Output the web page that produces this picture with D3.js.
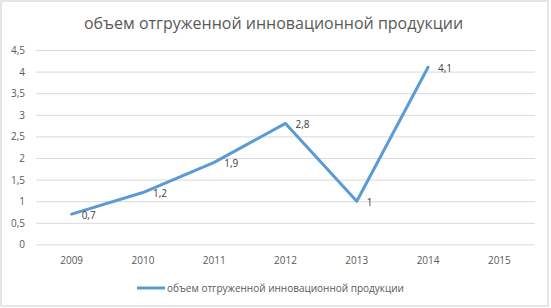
<!DOCTYPE html>
<html>
<head>
<meta charset="utf-8">
<script src="https://cdn.jsdelivr.net/npm/d3@7"></script>
<style>
  body { margin: 0; background: #fff; }
  text { font-family: "Open Sans", "Noto Sans", sans-serif; fill: #595959; }
</style>
</head>
<body>
<div id="chart"></div>
<script>
// data
const years = ["2009", "2010", "2011", "2012", "2013", "2014", "2015"];
const values = [0.7, 1.2, 1.9, 2.8, 1, 4.1, null];
const yTicks = [0, 0.5, 1, 1.5, 2, 2.5, 3, 3.5, 4, 4.5];
const seriesName = "объем отгруженной инновационной продукции";

const W = 551, H = 308;
const plot = {left: 36, right: 535, top: 50, bottom: 244.4};

const svg = d3.select("#chart")
  .append("svg")
    .attr("width", W)
    .attr("height", H);

// chart border
svg.append("rect")
  .attr("x", 1).attr("y", 1)
  .attr("width", W - 4).attr("height", H - 3)
  .attr("fill", "#fff")
  .attr("stroke", "#d9d9d9")
  .attr("stroke-width", 1.3);

const x = d3.scaleBand()
  .domain(years)
  .range([plot.left, plot.right]);

const y = d3.scaleLinear()
  .domain([0, 4.5])
  .range([plot.bottom, plot.top]);

const fmt = d => String(d).replace(".", ",");

// gridlines + y labels
const yAxis = d3.axisLeft(y)
  .tickValues(yTicks)
  .tickSize(-(plot.right - plot.left))
  .tickPadding(11)
  .tickFormat(fmt);

const gy = svg.append("g")
  .attr("transform", `translate(${plot.left},0)`)
  .call(yAxis);
gy.select(".domain").remove();
gy.selectAll(".tick line").attr("stroke", "#d9d9d9").attr("stroke-width", 1);
gy.selectAll(".tick text")
  .attr("font-size", 10)
  .attr("dy", "0.35em");

// x labels
const xAxis = d3.axisBottom(x).tickSize(0).tickPadding(13);
const gx = svg.append("g")
  .attr("transform", `translate(0,${plot.bottom})`)
  .call(xAxis);
gx.select(".domain").remove();
gx.selectAll(".tick text").attr("font-size", 10);

// line
const pts = years.map((d, i) => ({year: d, v: values[i]})).filter(d => d.v != null);

const line = d3.line()
  .x(d => x(d.year) + x.bandwidth() / 2)
  .y(d => y(d.v));

svg.append("path")
  .datum(pts)
  .attr("fill", "none")
  .attr("stroke", "#5b9bd5")
  .attr("stroke-width", 3)
  .attr("stroke-linejoin", "round")
  .attr("stroke-linecap", "round")
  .attr("d", line);

// point labels (right of point)
svg.selectAll(".lbl")
  .data(pts)
  .enter()
  .append("text")
    .attr("class", "lbl")
    .attr("x", d => x(d.year) + x.bandwidth() / 2 + 10)
    .attr("y", d => y(d.v) + 1)
    .attr("dy", "0.35em")
    .attr("font-size", 10)
    .style("fill", "#404040")
    .text(d => fmt(d.v));

// title
svg.append("text")
  .attr("x", W / 2 - 2)
  .attr("y", 29)
  .attr("text-anchor", "middle")
  .attr("font-size", 16)
  .text(seriesName);

// legend
const lg = svg.append("g").attr("transform", "translate(137,288)");
lg.append("line")
  .attr("x1", 0).attr("x2", 28)
  .attr("y1", 0).attr("y2", 0)
  .attr("stroke", "#5b9bd5")
  .attr("stroke-width", 3);
lg.append("text")
  .attr("x", 30)
  .attr("y", 0)
  .attr("dy", "0.35em")
  .attr("font-size", 10)
  .text(seriesName);
</script>
</body>
</html>
